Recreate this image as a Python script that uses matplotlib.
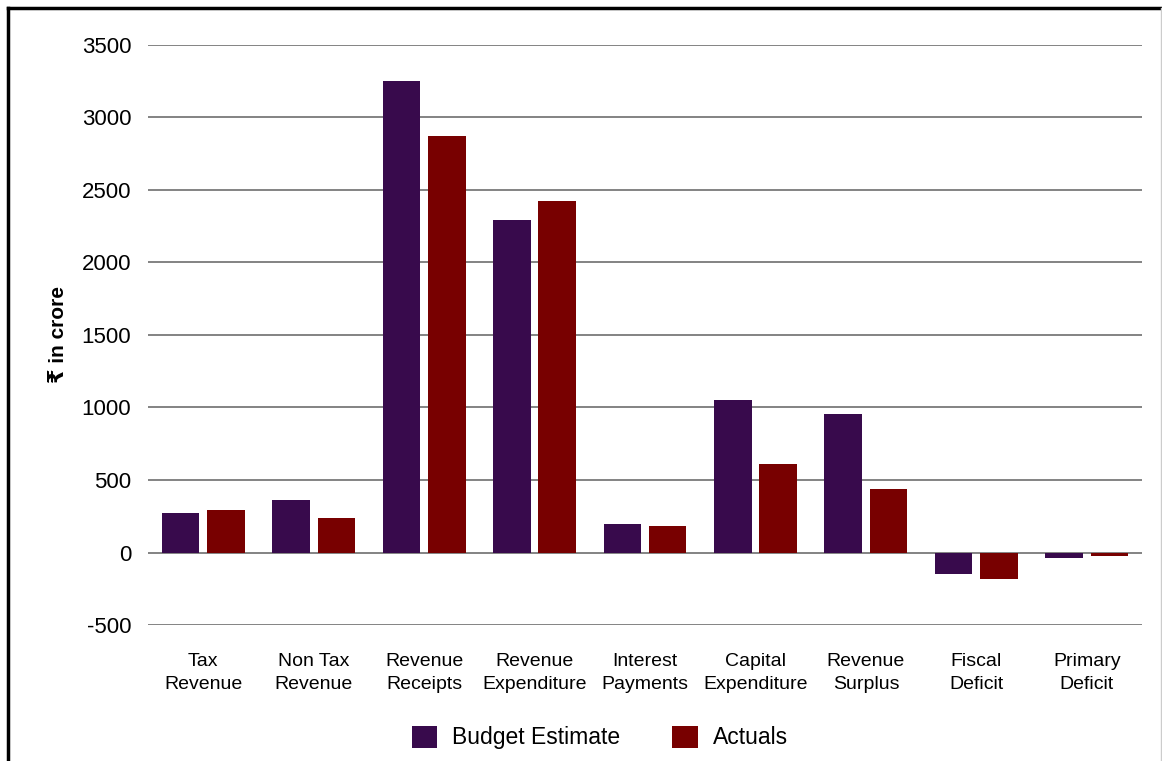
import matplotlib.pyplot as plt
from matplotlib.lines import Line2D
import numpy as np

plt.rcParams['font.family'] = ['Liberation Sans', 'DejaVu Sans']

categories = ['Tax\nRevenue', 'Non Tax\nRevenue', 'Revenue\nReceipts', 'Revenue\nExpenditure',
              'Interest\nPayments', 'Capital\nExpenditure', 'Revenue\nSurplus', 'Fiscal\nDeficit',
              'Primary\nDeficit']
budget_estimate = [270, 360, 3250, 2290, 200, 1055, 952, -149, -41]
actuals = [290, 235, 2870, 2421, 186, 612, 439, -181, -25]
yticks = [-500, 0, 500, 1000, 1500, 2000, 2500, 3000, 3500]

be_color = '#380a4c'
act_color = '#780000'

fig = plt.figure(figsize=(11.62, 7.61), dpi=100)
ax = fig.add_axes([0.1274, 0.1787, 0.8554, 0.7622])

x = np.arange(len(categories))
w = 0.34
ax.bar(x - 0.205, budget_estimate, w, color=be_color, label='Budget Estimate', zorder=3)
ax.bar(x + 0.205, actuals, w, color=act_color, label='Actuals', zorder=3)

ax.set_xlim(-0.5, len(categories) - 0.5)
ax.set_ylim(-500, 3500)
ax.set_yticks(yticks)
ax.set_yticklabels([str(v) for v in yticks], fontsize=16)
ax.set_xticks(x)
ax.set_xticklabels(categories, fontsize=14, linespacing=1.45)
ax.tick_params(axis='both', length=0)
ax.tick_params(axis='x', pad=20)
ax.tick_params(axis='y', pad=12)
ax.grid(axis='y', color='#7a7a7a', linewidth=1.3, zorder=1)
for s in ax.spines.values():
    s.set_visible(False)

ax.set_ylabel('₹ in crore', fontsize=15, fontweight='bold', labelpad=10)

fig.legend(loc='center', bbox_to_anchor=(0.516, 0.031), ncol=2, frameon=False,
           fontsize=16.5, handlelength=1.1, handleheight=1.1, columnspacing=2.3,
           handletextpad=0.65)

# frame around the figure
fig.add_artist(Line2D([8 / 1162, 8 / 1162], [0, 1 - 8 / 761], transform=fig.transFigure,
                      color='black', linewidth=2.5))
fig.add_artist(Line2D([8 / 1162, 1], [1 - 8 / 761, 1 - 8 / 761], transform=fig.transFigure,
                      color='black', linewidth=2.5))
fig.add_artist(Line2D([1161 / 1162, 1161 / 1162], [0, 1 - 8 / 761], transform=fig.transFigure,
                      color='#cccccc', linewidth=1))

fig.savefig('out.png', dpi=100)
